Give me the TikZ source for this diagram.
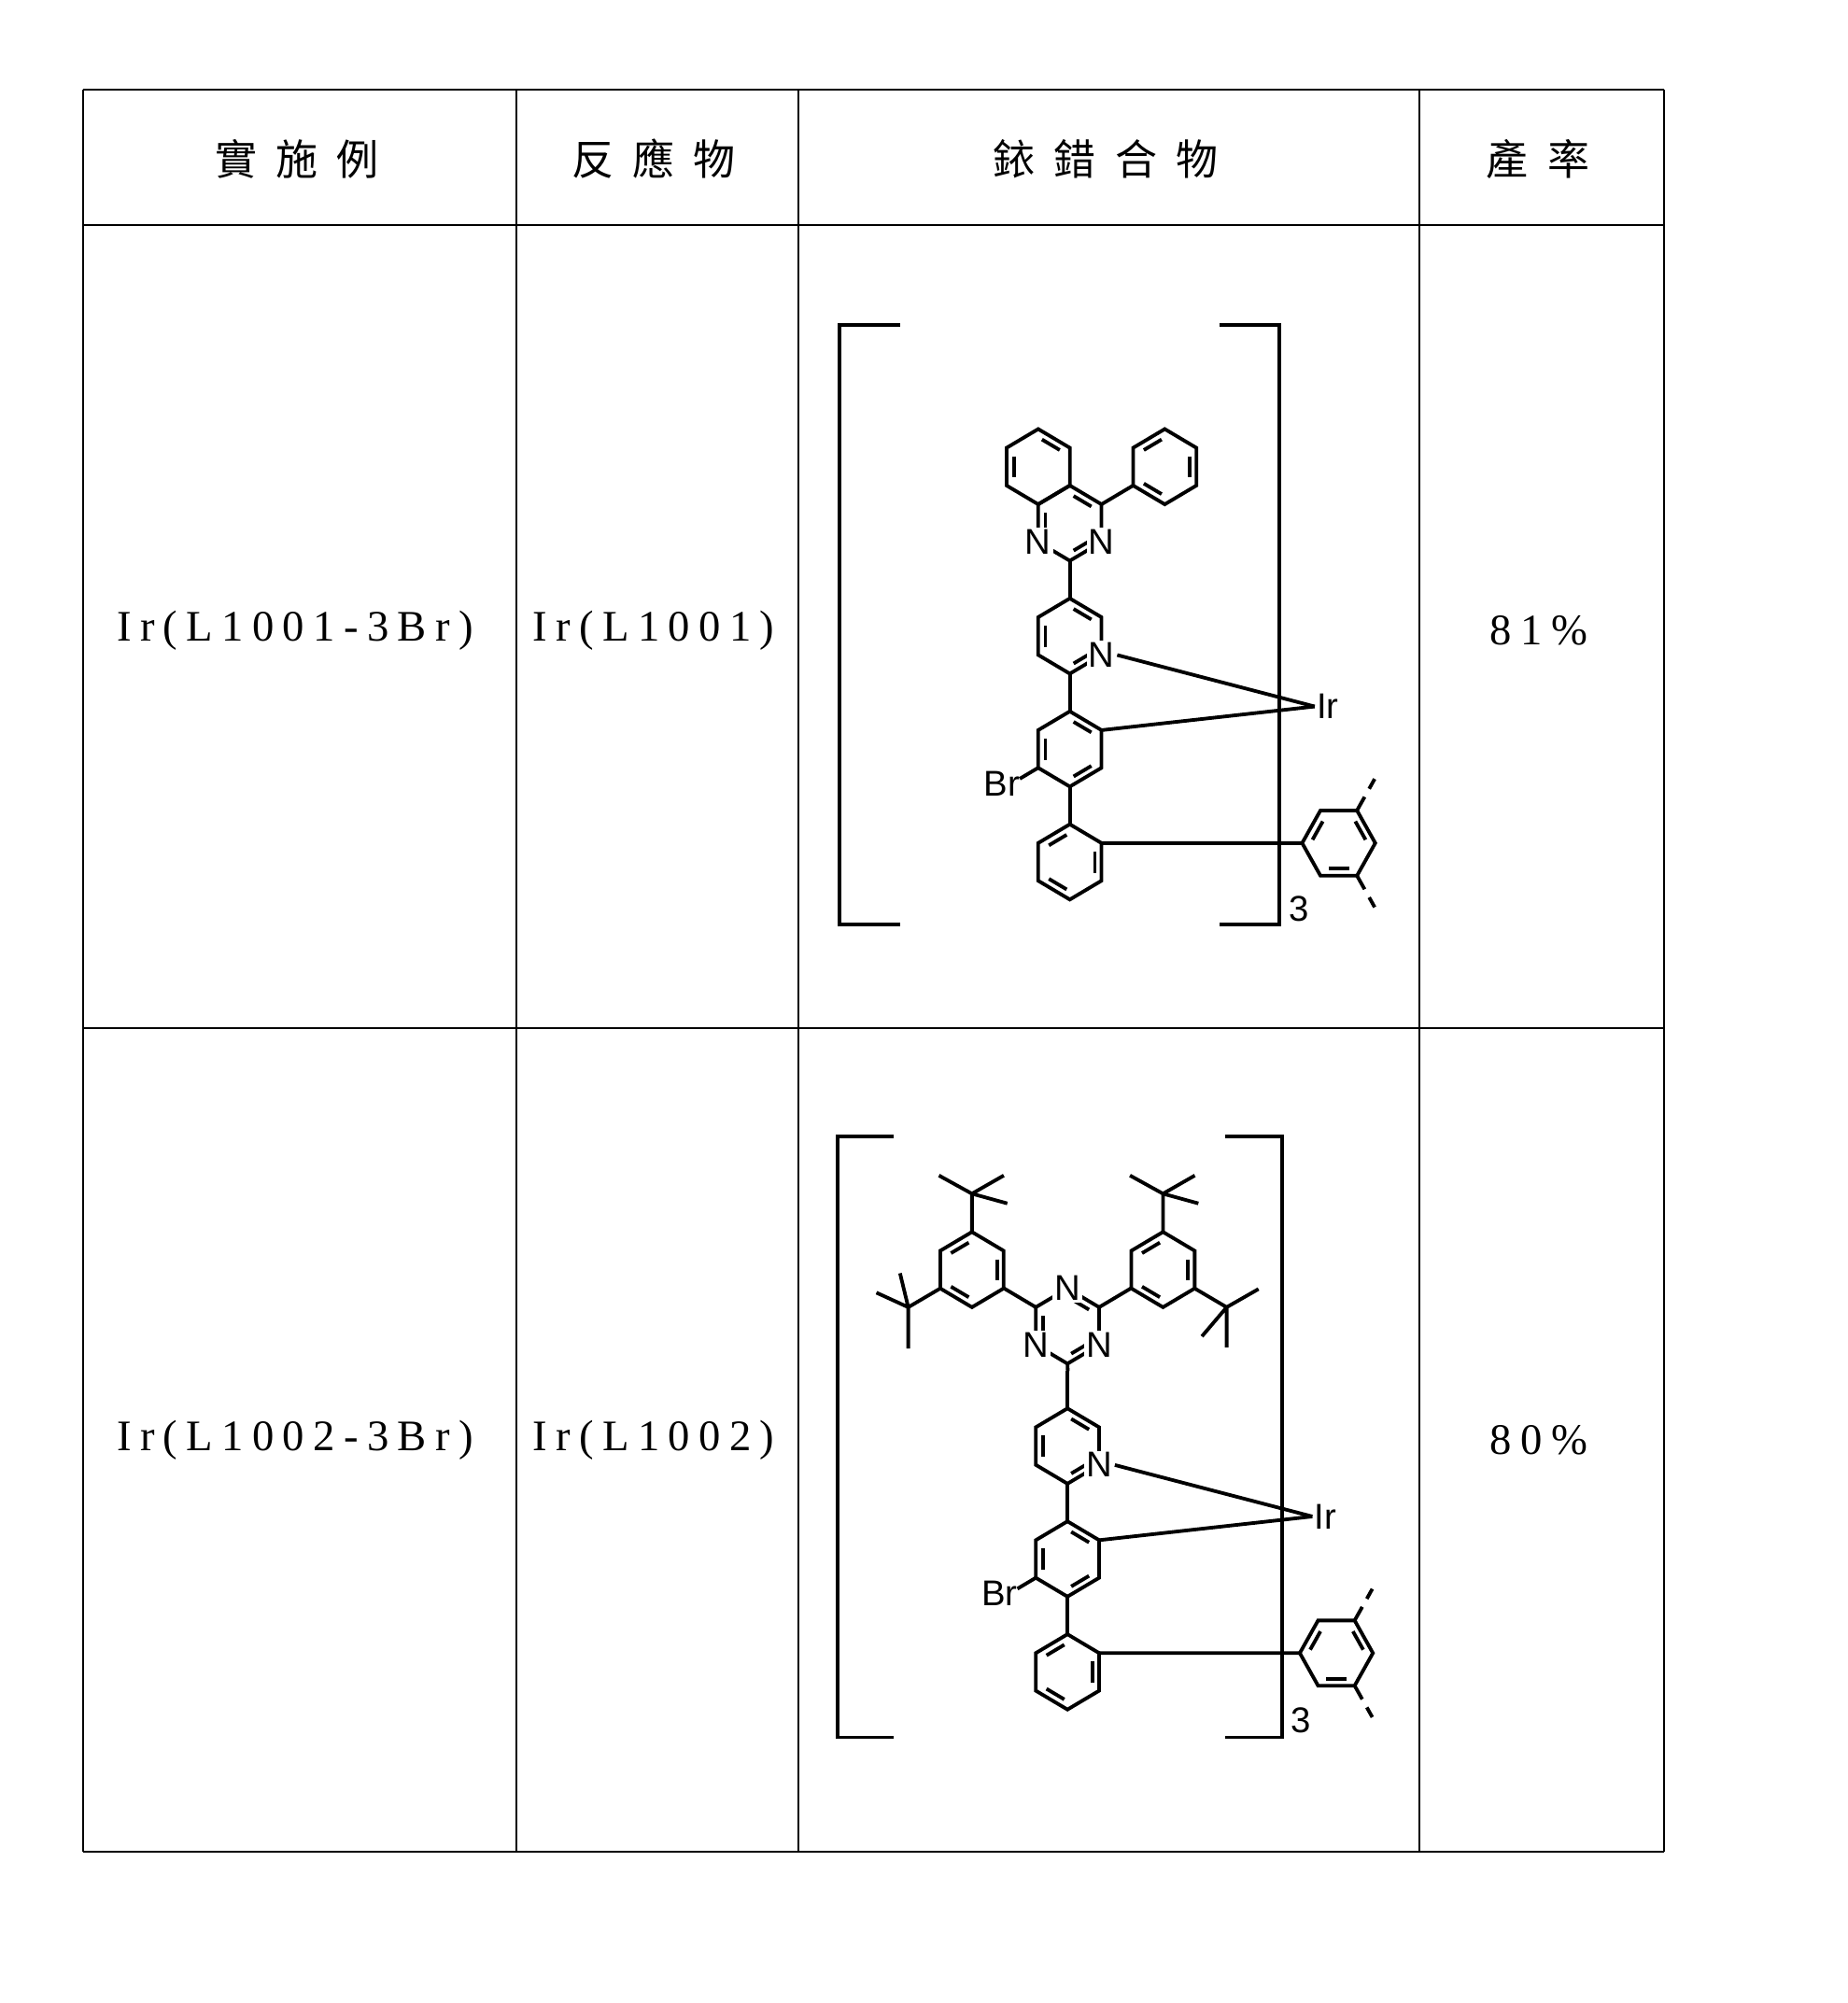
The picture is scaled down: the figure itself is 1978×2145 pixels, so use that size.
\documentclass[tikz,border=0pt]{standalone}
\usepackage{fontspec}
\setmainfont{Liberation Serif}
\newfontfamily\cjk[LetterSpace=45]{Noto Sans CJK TC}
\newfontfamily\chem{Liberation Sans}
\usetikzlibrary{calc}
\tikzset{
  grid/.style={line width=0.7pt},
  bond/.style={line width=1.15pt},
  lab/.style={font=\chem\fontsize{11.5}{11.5}\selectfont,inner sep=0.6pt,fill=white},
  head/.style={font=\cjk\fontsize{13.5}{13.5}\selectfont},
  cell/.style={font=\addfontfeature{LetterSpace=20}\fontsize{14}{14}\selectfont},
}
\newcommand\hexp[3]{% pointy-top: 1 top,2 UL,3 LL,4 bottom,5 LR,6 UR
  \coordinate (#1c) at (#2,#3);
  \foreach \i/\a in {1/-90,2/-150,3/150,4/90,5/30,6/-30}{\coordinate (#1\i) at ($(#2,#3)+(\a:31)$);}
  \draw[bond] (#11)--(#12)--(#13)--(#14)--(#15)--(#16)--cycle;}
\newcommand\hexf[3]{% flat-top: 1 L,2 UL,3 UR,4 R,5 LR,6 LL
  \coordinate (#1c) at (#2,#3);
  \foreach \i/\a in {1/180,2/-120,3/-60,4/0,5/60,6/120}{\coordinate (#1\i) at ($(#2,#3)+(\a:31)$);}
  \draw[bond] (#11)--(#12)--(#13)--(#14)--(#15)--(#16)--cycle;}
\newcommand\dbl[3]{%
  \path ($(#1c)!0.78!(#1#2)$) coordinate (ta) ($(#1c)!0.78!(#1#3)$) coordinate (tb);
  \draw[bond] ($(ta)!0.14!(tb)$) -- ($(tb)!0.14!(ta)$);}
\newcommand\lowerpart{%
  \hexp{Y}{1086}{600}\dbl{Y}{1}{6}\dbl{Y}{2}{3}\dbl{Y}{5}{4}
  \hexp{X}{1086}{693}\dbl{X}{1}{6}\dbl{X}{2}{3}\dbl{X}{5}{4}
  \draw[bond] (Y4)--(X1);
  \hexp{W}{1086}{786}\dbl{W}{1}{2}\dbl{W}{6}{5}\dbl{W}{4}{3}
  \draw[bond] (X4)--(W1);
  \hexf{V}{1314}{770.5}\dbl{V}{1}{2}\dbl{V}{3}{4}\dbl{V}{5}{6}
  \draw[bond] (W6)--(V1);
  \draw[bond,dash pattern=on 5pt off 3pt] (V3)--($(V3)+(-60:30)$);
  \draw[bond,dash pattern=on 5pt off 3pt] (V5)--($(V5)+(60:30)$);
  \draw[bond] (X3)--($(X3)+(150:18)$);
  \node[lab,anchor=east,fill=none] (br) at ($(X3)+(150:18)+(2,4)$) {Br};
  \node[lab,fill=none] (ir) at (1305,658) {Ir};
  \node[lab] (npy) at (Y5) {N};
  \draw[bond] (npy.east)--(ir.west);
  \draw[bond] (X6)--(ir.west);
  \draw[bond] (Y1)--++(0,-31) coordinate (top);}
\begin{document}
\begin{tikzpicture}[x=0.3pt,y=-0.3pt]
\useasboundingbox (0,0) rectangle (1978,2145);
\fill[white] (0,0) rectangle (1978,2145);
% table
\foreach \x in {89,553,855,1520,1782} \draw[grid] (\x,96)--(\x,1983);
\foreach \y in {96,241,1101,1983} \draw[grid] (89,\y)--(1782,\y);
\node[head] (h1) at (318,170) {實施例};
\node[head] (h2) at (700,170) {反應物};
\node[head] (h3) at (1184,170) {銥錯合物};
\node[head] (h4) at (1647,170) {產率};
\node[cell] (a1) at (316,675) {Ir(L1001-3Br)};
\node[cell] (b1) at (700,675) {Ir(L1001)};
\node[cell] (d1) at (1648,675) {81\%};
\node[cell] (a2) at (316,1542) {Ir(L1002-3Br)};
\node[cell] (b2) at (700,1542) {Ir(L1002)};
\node[cell] (d2) at (1648,1542) {80\%};
% molecule 1
\begin{scope}[shift={(860,330)},xscale=1.2626,yscale=1.30,shift={(-860,-330)}]
\draw[bond] (942,344)--(891,344)--(891,838)--(942,838);
\draw[bond] (1213,344)--(1264,344)--(1264,838)--(1213,838);
\node[lab,fill=none] (n3a) at (1281,825) {3};
\lowerpart
\hexp{P}{1086}{507}\dbl{P}{1}{6}\dbl{P}{2}{3}\dbl{P}{5}{4}
\hexp{B}{1059.2}{460.5}\dbl{B}{1}{6}\dbl{B}{2}{3}
\draw[bond] (P6)--($(P6)+(-30:31)$) coordinate (q);
\hexp{F}{1166.5}{460.5}\dbl{F}{2}{1}\dbl{F}{6}{5}\dbl{F}{3}{4}
\draw[bond] (P4)--(Y1);
\node[lab] (n1a) at (P3) {N};
\node[lab] (n1b) at (P5) {N};
\end{scope}
% molecule 2
\begin{scope}[shift={(860,1200)},xscale=1.2626,yscale=1.30,shift={(-860,-1200)}]
\draw[bond] (937,1213)--(889,1213)--(889,1708)--(937,1708);
\draw[bond] (1218,1213)--(1266,1213)--(1266,1708)--(1218,1708);
\node[lab,fill=none] (n3b) at (1282,1694) {3};
\begin{scope}[shift={(-2,868)}]
\lowerpart
\end{scope}
\hexp{T}{1084}{1369}\dbl{T}{1}{6}\dbl{T}{2}{3}\dbl{T}{5}{4}
\draw[bond] (T4)--(top);
\draw[bond] (T2)--($(T2)+(-150:31)$);
\draw[bond] (T6)--($(T6)+(-30:31)$);
\hexp{A}{1003}{1322.5}\dbl{A}{2}{1}\dbl{A}{6}{5}\dbl{A}{3}{4}
\hexp{R}{1165}{1322.5}\dbl{R}{2}{1}\dbl{R}{6}{5}\dbl{R}{3}{4}
\coordinate (c1) at (1003,1260);
\draw[bond] (A1)--(c1) (c1)--++(-28,-15) (c1)--++(27,-15) (c1)--++(30,8);
\coordinate (c2) at (949,1353.5);
\draw[bond] (A3)--(c2) (c2)--++(-27,-12) (c2)--++(-7,-28) (c2)--++(0,34);
\coordinate (c3) at (1165,1260);
\draw[bond] (R1)--(c3) (c3)--++(-28,-15) (c3)--++(27,-15) (c3)--++(30,8);
\coordinate (c4) at (1219,1353.5);
\draw[bond] (R5)--(c4) (c4)--++(27,-15) (c4)--++(-21,24) (c4)--++(0,33);
\node[lab] (t1) at (T1) {N};
\node[lab] (t3) at (T3) {N};
\node[lab] (t5) at (T5) {N};
\end{scope}
\end{tikzpicture}
\end{document}
